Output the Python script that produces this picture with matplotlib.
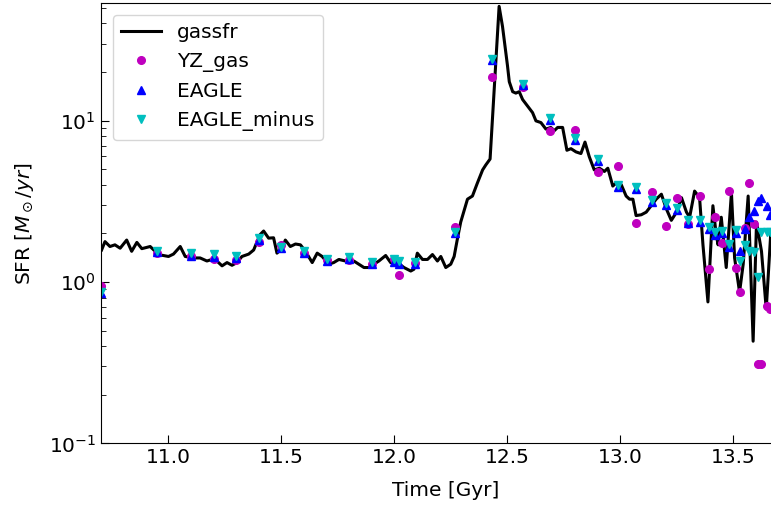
import matplotlib
matplotlib.use("Agg")
import matplotlib.pyplot as plt

# gassfr line: time [Gyr] and SFR [Msun/yr]
t_gas = [10.704, 10.719, 10.741, 10.763, 10.786, 10.815, 10.837, 10.860, 10.882, 10.919,
         10.941, 10.955, 11.000, 11.022, 11.052, 11.074, 11.111, 11.140, 11.170, 11.192,
         11.214, 11.237, 11.259, 11.281, 11.303, 11.325, 11.355, 11.377, 11.392, 11.406,
         11.421, 11.443, 11.465, 11.480, 11.503, 11.517, 11.539, 11.562, 11.584, 11.606,
         11.636, 11.658, 11.680, 11.709, 11.731, 11.754, 11.783, 11.820, 11.842, 11.865,
         11.887, 11.909, 11.931, 11.961, 11.983, 12.013, 12.042, 12.072, 12.086, 12.101,
         12.124, 12.146, 12.168, 12.190, 12.205, 12.227, 12.249, 12.264, 12.279, 12.293,
         12.323, 12.345, 12.367, 12.390, 12.404, 12.423, 12.463, 12.478, 12.500, 12.508,
         12.523, 12.537, 12.552, 12.567, 12.589, 12.611, 12.626, 12.648, 12.670, 12.692,
         12.707, 12.722, 12.744, 12.763, 12.781, 12.803, 12.825, 12.843, 12.862, 12.884,
         12.907, 12.929, 12.944, 12.966, 12.981, 13.003, 13.025, 13.040, 13.055, 13.069,
         13.092, 13.114, 13.136, 13.158, 13.181, 13.203, 13.225, 13.248, 13.270, 13.292,
         13.306, 13.328, 13.350, 13.365, 13.387, 13.409, 13.424, 13.432, 13.446, 13.468,
         13.491, 13.505, 13.527, 13.543, 13.565, 13.587, 13.602, 13.624, 13.645, 13.665,
         13.680]
sfr_gas = [1.58, 1.78, 1.66, 1.70, 1.62, 1.82, 1.55, 1.76, 1.61, 1.66,
           1.55, 1.48, 1.44, 1.49, 1.66, 1.44, 1.41, 1.41, 1.35, 1.38,
           1.35, 1.26, 1.32, 1.27, 1.32, 1.44, 1.49, 1.58, 1.78, 1.97,
           2.07, 1.87, 1.88, 1.51, 1.62, 1.82, 1.66, 1.72, 1.70, 1.55,
           1.32, 1.51, 1.44, 1.29, 1.32, 1.38, 1.35, 1.35, 1.29, 1.23,
           1.23, 1.29, 1.35, 1.46, 1.32, 1.32, 1.23, 1.17, 1.20, 1.51,
           1.38, 1.38, 1.48, 1.35, 1.44, 1.23, 1.29, 1.44, 1.87, 2.35,
           3.26, 3.41, 4.11, 4.95, 5.31, 5.78, 51.0, 38.3, 21.9, 17.4,
           15.1, 14.8, 15.1, 13.5, 12.3, 11.2, 9.96, 9.72, 8.86, 9.07,
           8.66, 9.07, 9.07, 6.55, 6.70, 6.40, 6.25, 7.36, 5.97, 4.95,
           5.07, 4.84, 5.07, 3.93, 4.11, 4.02, 3.41, 3.26, 3.26, 2.58,
           2.61, 2.71, 2.97, 3.26, 3.50, 2.84, 2.41, 2.71, 3.33, 2.71,
           2.52, 3.66, 3.33, 1.70, 0.753, 2.97, 1.95, 1.70, 2.52, 1.23,
           3.57, 1.41, 0.866, 1.29, 3.41, 0.43, 2.35, 1.55, 0.68, 2.0,
           1.5]

# sampled points
t_pts = [10.70, 10.95, 11.10, 11.20, 11.30, 11.40, 11.50, 11.60, 11.70, 11.80,
         11.90, 12.00, 12.02, 12.09, 12.27, 12.43, 12.57, 12.69, 12.80, 12.90,
         12.99, 13.07, 13.14, 13.20, 13.25, 13.30, 13.35, 13.39, 13.42, 13.45,
         13.48, 13.51, 13.53, 13.55, 13.57, 13.59, 13.61, 13.62, 13.65, 13.66]
yz_gas = [0.95, 1.52, 1.44, 1.38, 1.36, 1.78, 1.70, 1.51, 1.36, 1.36,
          1.30, 1.38, 1.10, 1.32, 2.19, 18.5, 16.1, 8.6, 8.8, 4.8,
          5.2, 2.32, 3.61, 2.22, 3.33, 2.28, 3.41, 1.20, 2.52, 1.74,
          3.66, 1.23, 0.866, 2.16, 4.08, 2.30, 0.31, 0.31, 0.71, 0.68]
eagle = [0.85, 1.53, 1.46, 1.43, 1.40, 1.82, 1.62, 1.52, 1.35, 1.38,
         1.29, 1.34, 1.30, 1.30, 2.00, 23.6, 16.6, 10.1, 7.6, 5.6,
         3.9, 3.75, 3.15, 3.0, 2.8, 2.33, 2.35, 2.12, 1.95, 2.0,
         1.66, 2.02, 1.56, 2.14, 2.52, 2.75, 3.18, 3.3, 2.95, 2.6]
eagle_minus = [0.87, 1.56, 1.51, 1.49, 1.44, 1.87, 1.66, 1.56, 1.39, 1.42,
               1.33, 1.38, 1.35, 1.33, 2.03, 24.0, 16.9, 10.4, 7.8, 5.8,
               4.0, 3.9, 3.23, 3.08, 2.86, 2.41, 2.41, 2.19, 2.03, 2.07,
               1.72, 2.10, 1.35, 1.70, 1.56, 1.53, 1.07, 2.03, 2.03, 2.03]

fig = plt.figure(figsize=(7.71, 5.05), dpi=100)
ax = fig.add_axes([0.1306, 0.1218, 0.894, 0.872])

ax.plot(t_gas, sfr_gas, color='k', lw=2.2, label='gassfr')
ax.plot(t_pts, yz_gas, 'mo', ms=5.5, label='YZ_gas')
ax.plot(t_pts, eagle, 'b^', ms=5.5, label='EAGLE')
ax.plot(t_pts, eagle_minus, 'cv', ms=5.5, label='EAGLE_minus')

ax.set_yscale('log')
ax.set_xlim(10.70, 13.75)
ax.set_ylim(0.1, 53.4)
ax.set_xticks([11.0, 11.5, 12.0, 12.5, 13.0, 13.5])
ax.tick_params(which='both', direction='in', labelsize=14.5, top=False, right=False)
ax.tick_params(which='major', length=6)
ax.tick_params(which='minor', length=3.5)
ax.set_xlabel('Time [Gyr]', fontsize=14.5, labelpad=10)
ax.set_ylabel(r'SFR [$M_\odot/yr$]', fontsize=14.5, labelpad=9)
ax.legend(loc='upper left', fontsize=14.5, borderaxespad=0.6)

fig.savefig('out.png', dpi=100)
